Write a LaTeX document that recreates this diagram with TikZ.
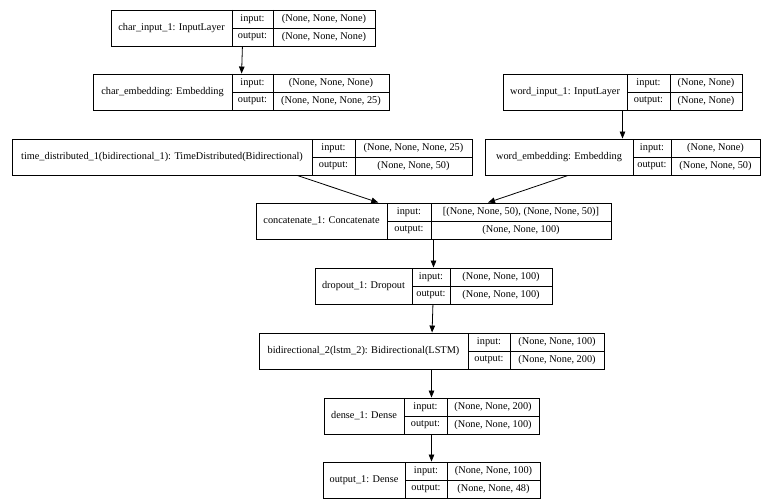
\documentclass[tikz,border=0pt]{standalone}
\usepackage{fontspec}
\setmainfont{Liberation Serif}
\usetikzlibrary{arrows.meta}
\tikzset{
  layer/.style={draw=black, line width=0.9pt, rectangle, minimum height=36pt, inner sep=0pt},
  divline/.style={draw=black, line width=0.9pt},
  txt/.style={inner sep=0pt, font=\fontsize{10.3}{12}\selectfont, text=black},
  edge/.style={draw=black, line width=0.8pt, -{Triangle[length=7pt,width=5.5pt]}}
}
\newcommand\layerbox[9]{%
  \pgfmathsetmacro\lw{#4-#2}%
  \pgfmathsetmacro\cx{(#2+#4)/2}%
  \pgfmathsetmacro\cy{#3+18}%
  \pgfmathsetmacro\bt{#3+36}%
  \pgfmathsetmacro\ra{#3+9}%
  \pgfmathsetmacro\rb{#3+27}%
  \pgfmathsetmacro\lx{(#2+#5)/2}%
  \pgfmathsetmacro\kx{(#5+#6)/2}%
  \pgfmathsetmacro\vx{(#6+#4)/2}%
  \node[layer, minimum width=\lw pt] (#1) at (\cx,\cy) {};
  \draw[divline] (#5,#3) -- (#5,\bt);
  \draw[divline] (#6,#3) -- (#6,\bt);
  \draw[divline] (#5,\cy) -- (#4,\cy);
  \node[txt] (#1-name) at (\lx,\cy) {#7};
  \node[txt] (#1-inkey) at (\kx,\ra) {input:};
  \node[txt] (#1-outkey) at (\kx,\rb) {output:};
  \node[txt] (#1-inval) at (\vx,\ra) {#8};
  \node[txt] (#1-outval) at (\vx,\rb) {#9};
}
\begin{document}
\begin{tikzpicture}[x=1pt,y=-1pt]
\useasboundingbox (0,0) rectangle (766,503);
\layerbox{ci}{111}{10}{375}{232}{273}{char\_input\_1: InputLayer}{(None, None, None)}{(None, None, None)}
\layerbox{ce}{93}{74}{389}{232}{273}{char\_embedding: Embedding}{(None, None, None)}{(None, None, None, 25)}
\layerbox{wi}{503}{74}{742}{627}{670}{word\_input\_1: InputLayer}{(None, None)}{(None, None)}
\layerbox{td}{12}{139}{472}{312}{355}{time\_distributed\_1(bidirectional\_1): TimeDistributed(Bidirectional)}{(None, None, None, 25)}{(None, None, 50)}
\layerbox{we}{485}{139}{760}{633}{671}{word\_embedding: Embedding}{(None, None)}{(None, None, 50)}
\layerbox{cc}{256}{203}{611}{387}{431}{concatenate\_1: Concatenate}{[(None, None, 50), (None, None, 50)]}{(None, None, 100)}
\layerbox{do}{315}{268}{552}{412}{450}{dropout\_1: Dropout}{(None, None, 100)}{(None, None, 100)}
\layerbox{bi}{259}{333}{604}{468}{510}{bidirectional\_2(lstm\_2): Bidirectional(LSTM)}{(None, None, 100)}{(None, None, 200)}
\layerbox{de}{324}{398}{539}{404}{447}{dense\_1: Dense}{(None, None, 200)}{(None, None, 100)}
\layerbox{ou}{323}{462}{540}{405}{447}{output\_1: Dense}{(None, None, 100)}{(None, None, 48)}
\draw[edge] (ci) -- (ce);
\draw[edge] (wi) -- (we);
\draw[edge] (td) -- (cc);
\draw[edge] (we) -- (cc);
\draw[edge] (cc) -- (do);
\draw[edge] (do) -- (bi);
\draw[edge] (bi) -- (de);
\draw[edge] (de) -- (ou);
\end{tikzpicture}
\end{document}
